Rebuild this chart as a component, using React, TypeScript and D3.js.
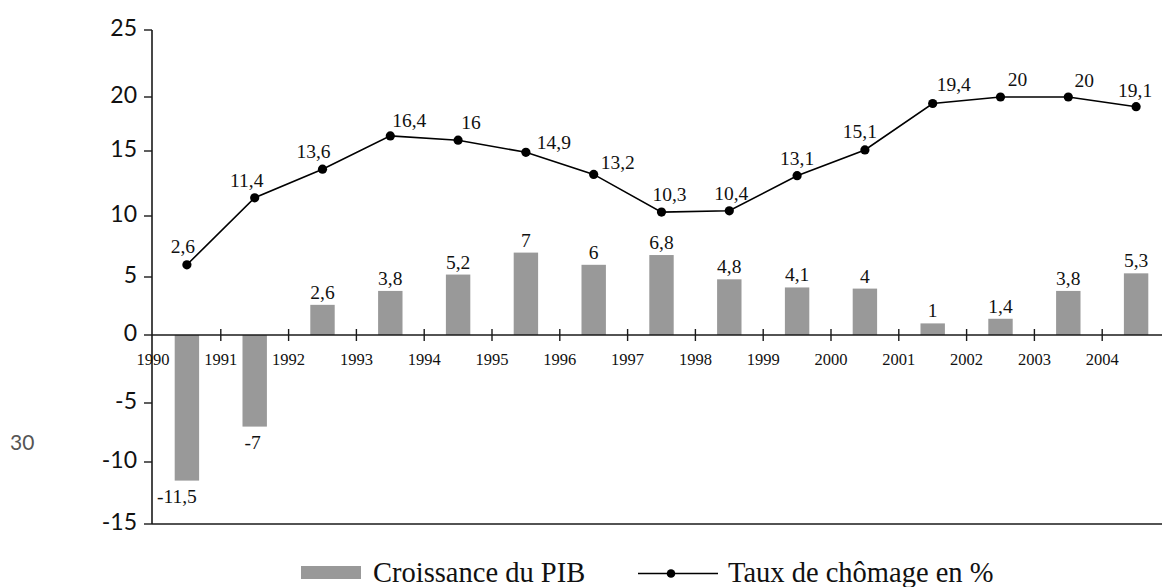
import React from 'react';
import * as d3 from 'd3';

// ---- Data ----
const years = ['1990', '1991', '1992', '1993', '1994', '1995', '1996', '1997', '1998', '1999', '2000', '2001', '2002', '2003', '2004'];
const pibGrowth = [-11.5, -7, 2.6, 3.8, 5.2, 7, 6, 6.8, 4.8, 4.1, 4, 1, 1.4, 3.8, 5.3];
// plotted unemployment values (as drawn) and their printed labels
const chomage = [6, 11.4, 13.6, 16.4, 16, 14.9, 13.2, 10.3, 10.4, 13.1, 15.1, 19.4, 20, 20, 19.1];
const chomageLabels = ['2,6', '11,4', '13,6', '16,4', '16', '14,9', '13,2', '10,3', '10,4', '13,1', '15,1', '19,4', '20', '20', '19,1'];
const yTicks = [-15, -10, -5, 0, 5, 10, 15, 20, 25];

// label placement (dx from point centre to label centre, dy to baseline)
const lineLabelOffsets: [number, number][] = [
  [-4, -12], [-8, -11], [-9, -11], [19, -9], [13, -11], [28, -3], [24, -5], [8, -11],
  [2, -11], [0, -11], [-5, -12], [21, -12], [17, -11], [16, -10], [-1, -10],
];
const barLabelDx = [-10, -2, 0, 0, 0, 0, 0, 0, 0, 0, 0, 0, 0, 0, 0];

const fmt = (v: number) => String(v).replace('.', ',');

const W = 1162;
const H = 587;
const SERIF = '"Liberation Serif", "Times New Roman", serif';
const SANS = 'Lato, "Open Sans", sans-serif';

export default function App() {
  const step = 67.8;
  const x0 = 153;
  const x = d3
    .scaleBand<string>()
    .domain(years)
    .range([x0, x0 + step * years.length])
    .paddingInner(0.64)
    .paddingOuter(0.32);
  const half = (x.step() - x.bandwidth()) / 2;
  const cx = (yr: string) => (x(yr) as number) + x.bandwidth() / 2;
  const tickX = (yr: string) => (x(yr) as number) - half;

  const y = d3
    .scaleLinear()
    .domain(yTicks)
    .range([524, 462, 403, 335, 277, 216, 151, 97, 30]);

  const axisX = 152;
  const y0 = y(0);

  const line = d3
    .line<number>()
    .x((_, i) => cx(years[i]))
    .y((d) => y(d));

  const axisColor = '#1a1a1a';

  return (
    <svg
      width={W}
      height={H}
      style={{ position: 'absolute', left: 0, top: 0, background: '#fff' }}
    >
      <rect x={0} y={0} width={W} height={H} fill="#fff" />

      {/* bars */}
      {pibGrowth.map((v, i) => {
        const yr = years[i];
        const top = Math.min(y(v), y0);
        const h = Math.abs(y(v) - y0);
        return (
          <rect key={'b' + yr} x={x(yr)} y={top} width={x.bandwidth()} height={h} fill="#999999" />
        );
      })}

      {/* bar labels */}
      {pibGrowth.map((v, i) => {
        const yr = years[i];
        const ly = v >= 0 ? y(v) - 6 : y(v) + 22;
        return (
          <text
            key={'bl' + yr}
            x={cx(yr) + barLabelDx[i]}
            y={ly}
            textAnchor="middle"
            fontFamily={SERIF}
            fontSize={19.5}
            fill="#111"
          >
            {fmt(v)}
          </text>
        );
      })}

      {/* y axis */}
      <line x1={axisX} x2={axisX} y1={y(25)} y2={y(-15)} stroke={axisColor} strokeWidth={1.6} />
      {yTicks.map((t) => (
        <g key={'yt' + t}>
          <line x1={axisX - 8} x2={axisX} y1={y(t)} y2={y(t)} stroke={axisColor} strokeWidth={1.4} />
          <text
            x={137}
            y={y(t) - 3}
            textAnchor="end"
            dominantBaseline="central"
            fontFamily={SANS}
            fontSize={23}
            fill="#111"
          >
            {t}
          </text>
        </g>
      ))}

      {/* x axis at 0 and bottom frame */}
      <line x1={axisX} x2={W} y1={y0} y2={y0} stroke={axisColor} strokeWidth={1.7} />
      <line x1={axisX} x2={W} y1={y(-15)} y2={y(-15)} stroke={axisColor} strokeWidth={1.7} />
      {years.map((yr) => (
        <g key={'xt' + yr}>
          {yr !== '1990' && (
            <line x1={tickX(yr)} x2={tickX(yr)} y1={y0 - 6} y2={y0 + 6} stroke={axisColor} strokeWidth={1.4} />
          )}
          <text
            x={tickX(yr)}
            y={y0 + 30}
            textAnchor="middle"
            fontFamily={SERIF}
            fontSize={16.5}
            fill="#111"
          >
            {yr}
          </text>
        </g>
      ))}

      {/* unemployment line */}
      <path d={line(chomage) || ''} fill="none" stroke="#000" strokeWidth={1.6} />
      {chomage.map((v, i) => (
        <circle key={'p' + i} cx={cx(years[i])} cy={y(v)} r={4.6} fill="#000" />
      ))}
      {chomage.map((v, i) => (
        <text
          key={'pl' + i}
          x={cx(years[i]) + lineLabelOffsets[i][0]}
          y={y(v) + lineLabelOffsets[i][1]}
          textAnchor="middle"
          fontFamily={SERIF}
          fontSize={19.5}
          fill="#111"
        >
          {chomageLabels[i]}
        </text>
      ))}

      {/* stray label */}
      <text x={10} y={450} fontFamily={SANS} fontSize={21} fill="#555">
        30
      </text>

      {/* legend */}
      <rect x={301} y={566} width={60} height={13} fill="#999999" />
      <text x={373} y={582} fontFamily={SERIF} fontSize={28.5} fill="#111">
        Croissance du PIB
      </text>
      <line x1={638} x2={718} y1={573.5} y2={573.5} stroke="#000" strokeWidth={1.6} />
      <circle cx={671} cy={573.5} r={4.3} fill="#000" />
      <text x={728} y={582} fontFamily={SERIF} fontSize={28.5} fill="#111">
        Taux de chômage en %
      </text>
    </svg>
  );
}
